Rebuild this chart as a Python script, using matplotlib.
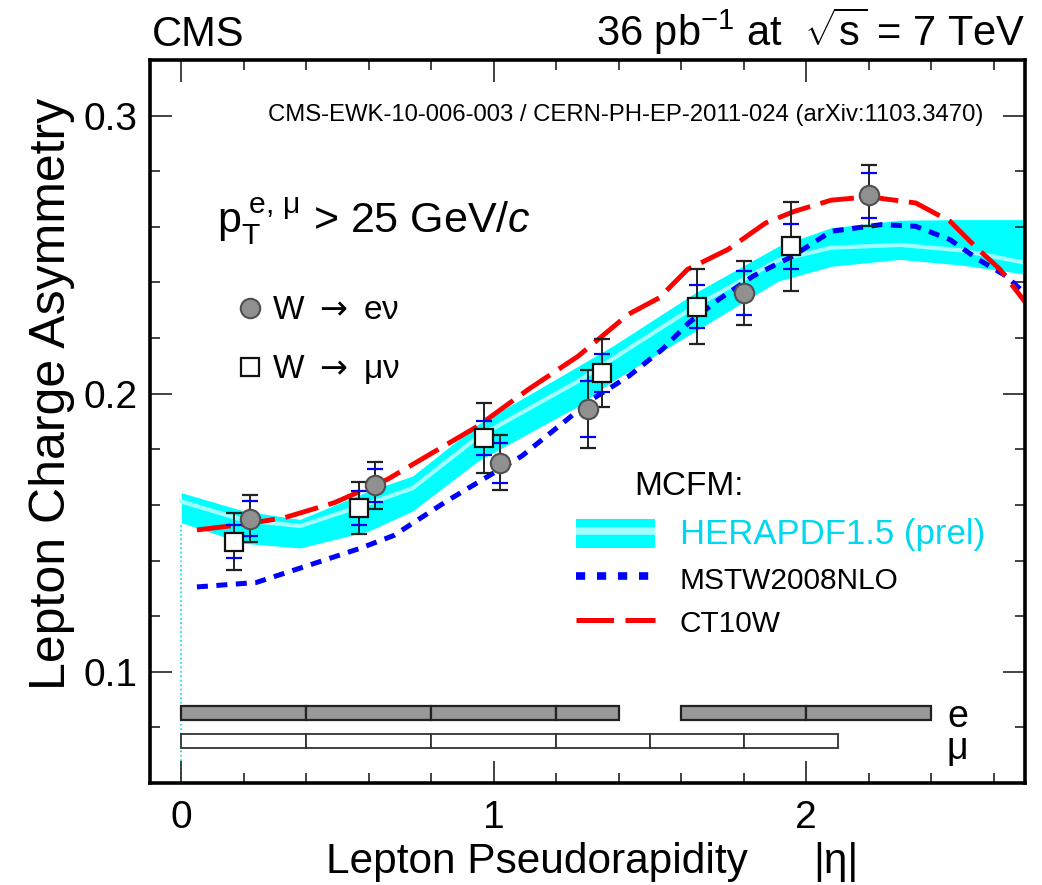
import numpy as np
import matplotlib
matplotlib.use("Agg")
import matplotlib.pyplot as plt
from matplotlib.patches import Patch
from matplotlib.lines import Line2D
from matplotlib.legend_handler import HandlerTuple

plt.rcParams['font.family'] = ['Liberation Sans', 'DejaVu Sans']
plt.rcParams['mathtext.fontset'] = 'custom'
plt.rcParams['mathtext.rm'] = 'Liberation Sans'
plt.rcParams['mathtext.it'] = 'Liberation Sans:italic'
plt.rcParams['mathtext.bf'] = 'Liberation Sans:bold'
plt.rcParams['mathtext.sf'] = 'Liberation Sans'

# ---------------- data ----------------
e_eta = [0.22, 0.62, 1.02, 1.30, 1.80, 2.20]
e_asym = [0.1551, 0.1670, 0.1752, 0.1944, 0.2362, 0.2713]
e_stat = [0.0063, 0.0060, 0.0072, 0.0101, 0.0078, 0.0081]
e_tot = [0.0084, 0.0084, 0.0099, 0.0140, 0.0114, 0.0111]

mu_eta = [0.17, 0.57, 0.97, 1.345, 1.65, 1.95]
mu_asym = [0.1468, 0.1589, 0.1840, 0.2075, 0.2313, 0.2530]
mu_stat = [0.0060, 0.0060, 0.0060, 0.0069, 0.0077, 0.0082]
mu_tot = [0.0102, 0.0092, 0.0125, 0.0122, 0.0134, 0.0160]

e_bin_lo = [0.0, 0.4, 0.8, 1.2, 1.6, 2.0]
e_bin_hi = [0.4, 0.8, 1.2, 1.4, 2.0, 2.4]
mu_bin_lo = [0.0, 0.4, 0.8, 1.2, 1.5, 1.8]
mu_bin_hi = [0.4, 0.8, 1.2, 1.5, 1.8, 2.1]

hera_eta = [0.0, 0.2, 0.38, 0.6, 0.74, 0.95, 1.27, 1.38, 1.645, 1.91, 2.08, 2.30, 2.50, 2.70]
hera_lo = [0.1536, 0.1462, 0.1445, 0.1506, 0.1578, 0.1758, 0.1955, 0.2045, 0.2225, 0.2405, 0.2458, 0.2483, 0.2462, 0.2430]
hera_cen = [0.1612, 0.1545, 0.1524, 0.1605, 0.1660, 0.1845, 0.2045, 0.2125, 0.2315, 0.2480, 0.2525, 0.2535, 0.2515, 0.2471]
hera_hi = [0.1644, 0.1578, 0.1548, 0.1650, 0.1704, 0.1890, 0.2099, 0.2171, 0.2363, 0.2530, 0.2597, 0.2624, 0.2626, 0.2626]

mstw_eta = [0.05, 0.24, 0.40, 0.57, 0.68, 0.85, 1.09, 1.315, 1.432, 1.539, 1.624, 1.72,
            1.83, 1.955, 2.08, 2.24, 2.35, 2.46, 2.55, 2.64, 2.70]
mstw_asym = [0.1305, 0.1321, 0.1380, 0.1443, 0.1490, 0.1614, 0.1776, 0.1980, 0.2063, 0.2159,
             0.2255, 0.2339, 0.2423, 0.2494, 0.2584, 0.2608, 0.2602, 0.2554, 0.2483, 0.2423, 0.2360]

ct_eta = [0.05, 0.20, 0.33, 0.49, 0.66, 0.80, 0.95, 1.11, 1.27, 1.43, 1.53, 1.62, 1.75,
          1.87, 1.96, 2.08, 2.20, 2.35, 2.46, 2.54, 2.62, 2.70]
ct_asym = [0.1510, 0.1530, 0.1554, 0.1608, 0.1692, 0.1785, 0.1884, 0.2015, 0.2135, 0.2285,
           0.2345, 0.2447, 0.2519, 0.2614, 0.2655, 0.2696, 0.2708, 0.2686, 0.2620, 0.2530,
           0.2447, 0.2330]

x_ticks = [0, 1, 2]
x_ticklabels = ['0', '1', '2']
y_ticks = [0.1, 0.2, 0.3]
y_ticklabels = ['0.1', '0.2', '0.3']

# ---------------- figure ----------------
fig = plt.figure(figsize=(10.42, 8.85), dpi=100)
ax = fig.add_axes([0.1440, 0.1153, 0.8397, 0.8169])
ymin, ymax = 0.06, 0.32
ax.set_xlim(-0.1, 2.7)
ax.set_ylim(ymin, ymax)

CYAN = '#00FFFF'
LCYAN = '#A0FFFF'
BLUE = '#0000FF'
RED = '#FF0000'

# HERAPDF band
ax.fill_between(hera_eta, hera_lo, hera_hi, color=CYAN, lw=0, zorder=1)
ax.plot(hera_eta, hera_cen, color=LCYAN, lw=3, zorder=1.5)
ax.vlines(hera_eta[0], ymin, hera_lo[0], colors='#00DDEE', linestyles=':', lw=1.2, zorder=1)

# MSTW and CT10W
ax.plot(mstw_eta, mstw_asym, color=BLUE, lw=3.6, ls=(0, (2.2, 1.7)), zorder=2)
ax.plot(ct_eta, ct_asym, color=RED, lw=3.5, ls=(0, (7, 2.2)), zorder=2)

# error bars
for xs, ys, tot, st in [(e_eta, e_asym, e_tot, e_stat), (mu_eta, mu_asym, mu_tot, mu_stat)]:
    ax.errorbar(xs, ys, yerr=tot, fmt='none', ecolor='#222222', elinewidth=1.4,
                capsize=6, capthick=1.6, zorder=3)
    eb = ax.errorbar(xs, ys, yerr=st, fmt='none', ecolor=BLUE, elinewidth=1.4,
                     capsize=6, capthick=1.6, zorder=3)
    eb[2][0].set_visible(False)

ax.plot(e_eta, e_asym, 'o', ms=14, mfc='#909090', mec='#505050', mew=1.5, zorder=4)
ax.plot(mu_eta, mu_asym, 's', ms=12.5, mfc='white', mec='#111111', mew=1.6, zorder=4)

# bottom bin boxes
ax.bar(e_bin_lo, 0.0050, width=np.subtract(e_bin_hi, e_bin_lo), bottom=0.0826, align='edge',
       color='#999999', edgecolor='#222222', lw=1.6, zorder=2)
ax.bar(mu_bin_lo, 0.0051, width=np.subtract(mu_bin_hi, mu_bin_lo), bottom=0.0725, align='edge',
       color='white', edgecolor='#333333', lw=1.3, zorder=2)
ax.text(2.45, 0.0902, 'e\nμ', fontsize=27, ha='left', va='top', linespacing=0.86)

# ticks
ax.set_xticks(x_ticks)
ax.set_xticklabels(x_ticklabels)
ax.set_xticks(np.arange(0, 2.61, 0.2), minor=True)
ax.set_yticks(y_ticks)
ax.set_yticklabels(y_ticklabels)
ax.set_yticks(np.arange(0.06, 0.321, 0.02), minor=True)
ax.tick_params(which='both', direction='in', top=True, right=True, width=1.2, color='#222222')
ax.tick_params(which='major', length=16, labelsize=28, pad=9)
ax.tick_params(which='minor', length=7.5)
ax.tick_params(axis='x', which='major', pad=12)
for s in ax.spines.values():
    s.set_linewidth(2.6)

# texts
ax.text(2.568, 0.3003, 'CMS-EWK-10-006-003 / CERN-PH-EP-2011-024 (arXiv:1103.3470)',
        fontsize=17.2, ha='right', va='center')
ax.text(0.114, 0.2619, r'$\mathrm{p}_{\mathrm{T}}^{\;\mathrm{e,\,\mu}}$ > 25 GeV/$\mathit{c}$',
        fontsize=31, ha='left', va='center')
ax.text(1.451, 0.1667, 'MCFM:', fontsize=24, ha='left', va='center')

fig.text(152 / 1042, 1 - 46 / 885, 'CMS', fontsize=30, ha='left', va='baseline')
fig.text(1025 / 1042, 1 - 46 / 885, r'36 pb$^{-1}$ at  $\sqrt{\mathrm{s}}$ = 7 TeV', fontsize=30,
         ha='right', va='baseline')
fig.text(536.5 / 1042, 1 - 873 / 885, 'Lepton Pseudorapidity', fontsize=30.5, ha='center',
         va='baseline')
fig.text(813 / 1042, 1 - 873 / 885, '|η|', fontsize=30.5, ha='left', va='baseline')
fig.text(52 / 1042, 1 - 394 / 885, 'Lepton Charge Asymmetry', fontsize=36, rotation=90,
         ha='center', va='center')

# legend 1: data
h_e = Line2D([], [], ls='none', marker='o', ms=14, mfc='#909090', mec='#505050', mew=1.5)
h_mu = Line2D([], [], ls='none', marker='s', ms=12.5, mfc='white', mec='#111111', mew=1.6)
leg1 = ax.legend([h_e, h_mu], [r'W $\rightarrow$ eν', r'W $\rightarrow$ μν'], loc='upper left',
                 bbox_to_anchor=(0.0991, 0.6743), frameon=False, fontsize=24,
                 handlelength=0.8, handletextpad=0.26, labelspacing=0.81,
                 borderpad=0, borderaxespad=0)
for tx in leg1.get_texts():
    tx.set_math_fontfamily('dejavusans')
ax.add_artist(leg1)

# legend 2: MCFM
h_band = (Patch(facecolor=CYAN, edgecolor='none'),
          Line2D([], [], color=LCYAN, lw=5.5, solid_capstyle='butt'))
h_mstw = Line2D([], [], color=BLUE, lw=5.5, ls=(0, (1.2, 1.55)))
h_ct = Line2D([], [], color=RED, lw=3.6, ls=(0, (7.5, 2.3)))
leg2 = ax.legend([h_band, h_mstw, h_ct], ['HERAPDF1.5 (prel)', 'MSTW2008NLO', 'CT10W'],
                 handler_map={tuple: HandlerTuple(ndivide=1, pad=0)},
                 loc='upper left', bbox_to_anchor=(0.4869, 0.367), frameon=False,
                 fontsize=21.5, handlelength=2.64, handleheight=1.1, handletextpad=0.84,
                 labelspacing=0.45, borderpad=0, borderaxespad=0)
t = leg2.get_texts()
t[0].set_color('#00D8F0')
t[0].set_fontsize(25)

fig.savefig('out.png', dpi=100)
